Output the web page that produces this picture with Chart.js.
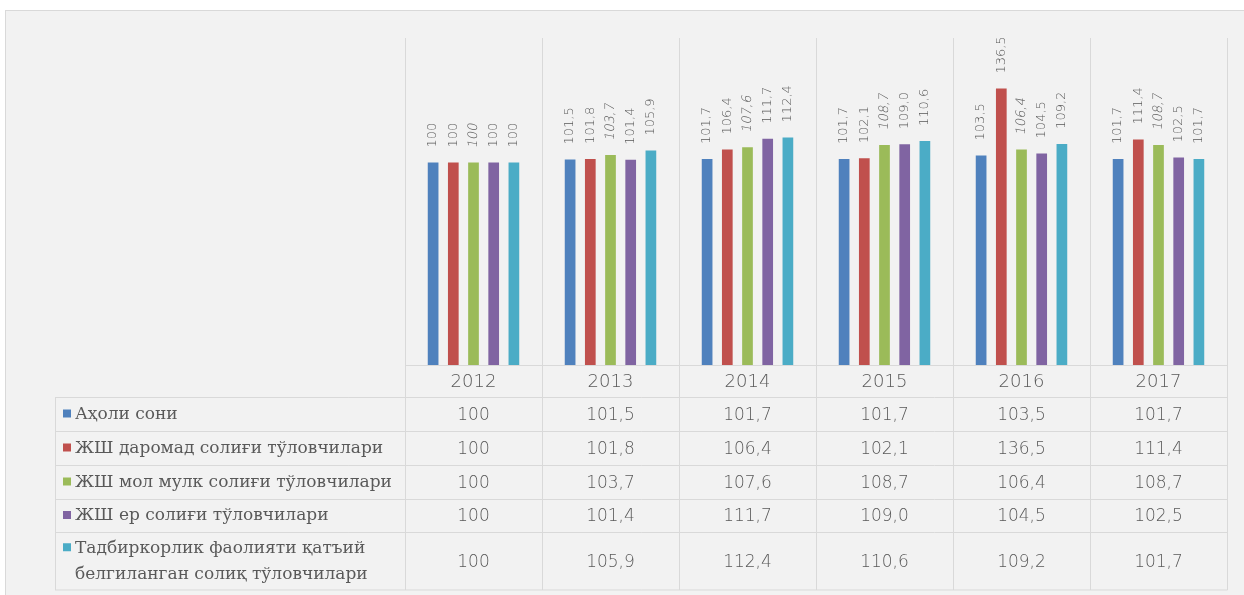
<!DOCTYPE html>
<html>
<head>
<meta charset="utf-8">
<script src="https://cdn.jsdelivr.net/npm/chart.js@4.4.1/dist/chart.umd.min.js"></script>
<style>
  html, body { margin: 0; padding: 0; background: #fff; }
  #wrap { position: relative; width: 1244px; height: 595px; overflow: hidden; }
</style>
</head>
<body>
<div id="wrap"><canvas id="chart" width="1244" height="595"></canvas></div>
<script>
// Data
const years = ['2012', '2013', '2014', '2015', '2016', '2017'];
const seriesNames = [
  ['Аҳоли сони'],
  ['ЖШ даромад солиғи тўловчилари'],
  ['ЖШ мол мулк солиғи тўловчилари'],
  ['ЖШ ер солиғи тўловчилари'],
  ['Тадбиркорлик фаолияти қатъий', 'белгиланган солиқ тўловчилари']
];
const population  = [100, 101.5, 101.7, 101.7, 103.5, 101.7];
const incomeTax   = [100, 101.8, 106.4, 102.1, 136.5, 111.4];
const propertyTax = [100, 103.7, 107.6, 108.7, 106.4, 108.7];
const landTax     = [100, 101.4, 111.7, 109.0, 104.5, 102.5];
const fixedTax    = [100, 105.9, 112.4, 110.6, 109.2, 101.7];

const colors = ['#4f81bd', '#c0504d', '#9bbb59', '#8064a2', '#4bacc6'];
const allSeries = [population, incomeTax, propertyTax, landTax, fixedTax];

const textColor = '#595959';
const lineColor = '#d9d9d9';
const numFont = '"DejaVu Sans", sans-serif';
const labelFont = '"DejaVu Serif", serif';

// first year is the base (shown as plain 100), the rest with one decimal
function fmt(v, i) {
  return i === 0 ? String(v) : v.toFixed(1).replace('.', ',');
}

// grey panel with thin border
const framePlugin = {
  id: 'frame',
  beforeDraw(chart) {
    const ctx = chart.ctx;
    ctx.save();
    ctx.fillStyle = '#f2f2f2';
    ctx.fillRect(5, 10, 1260, 600);
    ctx.strokeStyle = lineColor;
    ctx.lineWidth = 1;
    ctx.strokeRect(5.5, 10.5, 1260, 600);
    ctx.restore();
  }
};

// rotated value labels above bars (green series is slanted)
const valueLabels = {
  id: 'valueLabels',
  afterDatasetsDraw(chart) {
    const ctx = chart.ctx;
    ctx.save();
    ctx.fillStyle = textColor;
    ctx.font = '200 13px ' + numFont;
    chart.data.datasets.forEach((ds, di) => {
      const meta = chart.getDatasetMeta(di);
      meta.data.forEach((bar, i) => {
        ctx.save();
        ctx.translate(bar.x, bar.y - 15);
        ctx.rotate(-Math.PI / 2);
        if (di === 2) ctx.transform(1, 0, -0.2, 1, 0, 0);
        ctx.textAlign = 'left';
        ctx.textBaseline = 'middle';
        ctx.fillText(fmt(ds.data[i], i), 0, 0);
        ctx.restore();
      });
    });
    ctx.restore();
  }
};

// data table under the plot
const dataTable = {
  id: 'dataTable',
  afterDraw(chart) {
    const ctx = chart.ctx;
    const area = chart.chartArea;
    const x = chart.scales.x;
    const n = years.length;
    const catW = (area.right - area.left) / n;
    const tableLeft = 55;
    const headerBottom = 397.5;
    const rowBottoms = [431.5, 465.5, 499.5, 532.5, 590];
    ctx.save();
    ctx.strokeStyle = lineColor;
    ctx.lineWidth = 1;

    // vertical lines continue down through the table
    for (let i = 0; i <= n; i++) {
      const px = Math.round(area.left + i * catW) + 0.5;
      ctx.beginPath();
      ctx.moveTo(px, area.bottom);
      ctx.lineTo(px, rowBottoms[rowBottoms.length - 1]);
      ctx.stroke();
    }
    ctx.beginPath();
    ctx.moveTo(tableLeft + 0.5, headerBottom);
    ctx.lineTo(tableLeft + 0.5, rowBottoms[rowBottoms.length - 1]);
    ctx.stroke();

    // horizontal lines
    [headerBottom].concat(rowBottoms).forEach(y => {
      ctx.beginPath();
      ctx.moveTo(tableLeft, y);
      ctx.lineTo(area.right + 0.5, y);
      ctx.stroke();
    });

    // years
    ctx.fillStyle = textColor;
    ctx.textAlign = 'center';
    ctx.textBaseline = 'middle';
    ctx.font = '200 18px ' + numFont;
    years.forEach((yr, i) => {
      ctx.fillText(yr, x.getPixelForValue(i), (area.bottom + headerBottom) / 2 + 1);
    });

    // rows
    let top = headerBottom;
    allSeries.forEach((vals, r) => {
      const bottom = rowBottoms[r];
      const mid = (top + bottom) / 2;
      ctx.font = '200 17px ' + numFont;
      ctx.textAlign = 'center';
      vals.forEach((v, i) => {
        ctx.fillText(fmt(v, i), x.getPixelForValue(i), mid + 1);
      });

      const lines = seriesNames[r];
      const lineH = 26;
      const firstY = mid - (lines.length - 1) * lineH / 2;
      ctx.fillStyle = colors[r];
      ctx.fillRect(63, firstY - 5, 8, 8);
      ctx.fillStyle = textColor;
      ctx.font = '17px ' + labelFont;
      ctx.textAlign = 'left';
      lines.forEach((ln, k) => {
        ctx.fillText(ln, 75, firstY + k * lineH);
      });
      top = bottom;
    });
    ctx.restore();
  }
};

new Chart(document.getElementById('chart'), {
  type: 'bar',
  data: {
    labels: years,
    datasets: allSeries.map((vals, i) => ({
      label: seriesNames[i].join(' '),
      data: vals,
      backgroundColor: colors[i],
      borderWidth: 0,
      categoryPercentage: 0.737,
      barPercentage: 0.53
    }))
  },
  options: {
    responsive: false,
    animation: false,
    events: [],
    layout: { padding: { left: 405, right: 17, top: 38, bottom: 230 } },
    plugins: { legend: { display: false }, tooltip: { enabled: false } },
    scales: {
      x: {
        grid: { color: lineColor, drawTicks: false, offset: true },
        border: { color: lineColor },
        ticks: { display: false },
        afterFit: s => { s.height = 0; }
      },
      y: { display: false, min: 0, max: 161.5 }
    }
  },
  plugins: [framePlugin, valueLabels, dataTable]
});
</script>
</body>
</html>
